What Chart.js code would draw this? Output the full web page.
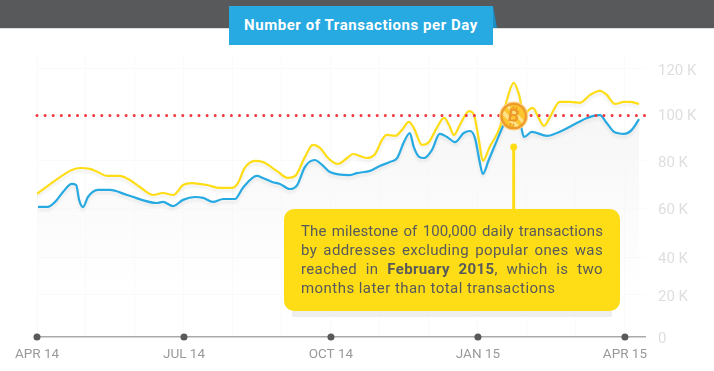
<!DOCTYPE html>
<html>
<head>
<meta charset="utf-8">
<title>Number of Transactions per Day</title>
<script src="https://cdn.jsdelivr.net/npm/chart.js@4"></script>
<style>
  html, body { margin: 0; padding: 0; background: #fff; overflow: hidden; }
  #wrap { position: relative; width: 714px; height: 371px; }
  canvas { position: absolute; left: 0; top: 0; }
  #band { position: absolute; left: 0; top: 0; width: 714px; height: 28px; background: #58595b; border-bottom: 1px solid #ddd; }
  #fold { position: absolute; left: 493px; top: 6px; width: 0; height: 0; border-bottom: 22px solid #1c8fc4; border-right: 4px solid transparent; }
  #title {
    position: absolute; left: 229px; top: 6px; width: 264px; height: 39px;
    background: #27a9e1; color: #fff; text-align: center;
    font: bold 15px/39px Roboto, sans-serif; letter-spacing: 0.55px;
  }
  #note {
    position: absolute; left: 284px; top: 209px; width: 302px; height: 68px; padding: 13px 17px 21px 17px;
    background: #fedd16; border-radius: 10px; box-shadow: 0 14px 0 -8px #eeeeee;
    color: #58595b; font: 15px/19px Roboto, sans-serif; letter-spacing: 0.36px;
  }
  #note span { display: block; text-align: justify; text-align-last: justify; }
  #note span.first { letter-spacing: 0.1px; }
  #note span.last { text-align-last: left; letter-spacing: 0.45px; }
</style>
</head>
<body>
<div id="wrap">
  <canvas id="grafico" width="714" height="371"></canvas>
  <div id="band"></div>
  <div id="fold"></div>
  <div id="title">Number of Transactions per Day</div>
  <div id="note"><span class="first">The milestone of 100,000 daily transactions</span><span>by addresses excluding popular ones was</span><span>reached in <b>February 2015</b>, which is two</span><span class="last">months later than total transactions</span></div>
</div>
<script>
// Months counted from APR 14, values in thousands of transactions
const mesesTotal = [0, .47, .71, .88, 1.08, 1.24, 1.43, 1.69, 1.86, 2.10, 2.37, 2.57, 2.78, 2.98, 3.16, 3.47, 3.73, 3.98, 4.10, 4.24, 4.45, 4.61, 4.90, 5.12, 5.27, 5.47, 5.63, 5.78, 5.94, 6.14, 6.33, 6.45, 6.73, 6.90, 7.04, 7.14, 7.31, 7.45, 7.59, 7.69, 7.86, 8.00, 8.16, 8.31, 8.41, 8.51, 8.63, 8.82, 8.92, 9.02, 9.10, 9.24, 9.45, 9.59, 9.73, 9.84, 9.94, 10.04, 10.12, 10.24, 10.35, 10.47, 10.67, 10.88, 11.08, 11.29, 11.49, 11.63, 11.80, 11.98, 12.10, 12.29];
const valoresTotal = [64.6, 72.2, 75.4, 76.3, 75.9, 74.5, 72.7, 72.7, 71.3, 67.7, 64.1, 65.0, 64.1, 68.6, 69.5, 68.6, 67.3, 67.3, 69.5, 76.3, 79.5, 79.0, 74.9, 71.8, 72.7, 81.3, 86.7, 85.3, 80.8, 78.1, 80.8, 82.6, 80.8, 82.6, 88.9, 91.2, 90.8, 93.5, 97.1, 94.4, 86.7, 88.0, 94.4, 98.9, 95.7, 91.2, 95.7, 102.0, 100.2, 88.9, 79.5, 85.8, 94.8, 107.0, 114.7, 109.3, 100.2, 102.5, 103.4, 98.9, 95.3, 99.3, 106.1, 106.1, 105.7, 109.3, 111.1, 109.3, 105.2, 106.1, 106.1, 105.2];

const mesesFiltrado = [.02, .22, .37, .53, .71, .80, .86, .94, 1.04, 1.24, 1.49, 1.84, 2.45, 2.57, 2.78, 2.98, 3.22, 3.39, 3.59, 3.80, 4.04, 4.20, 4.49, 4.61, 4.80, 4.96, 5.16, 5.31, 5.47, 5.67, 5.82, 5.98, 6.39, 6.53, 6.80, 7.00, 7.20, 7.35, 7.49, 7.61, 7.69, 7.80, 7.90, 8.06, 8.22, 8.37, 8.53, 8.71, 8.84, 8.94, 9.04, 9.10, 9.22, 9.39, 9.55, 9.73, 9.86, 9.94, 10.10, 10.41, 10.61, 11.49, 11.63, 11.78, 11.98, 12.14, 12.29];
const valoresFiltrado = [58.7, 58.7, 61.0, 65.5, 69.1, 68.6, 61.9, 58.7, 63.2, 66.4, 66.4, 64.1, 60.5, 61.0, 59.1, 61.9, 63.2, 62.8, 61.0, 62.3, 62.3, 67.3, 72.7, 71.8, 70.0, 69.1, 66.8, 68.6, 76.8, 79.9, 77.7, 74.5, 73.1, 74.0, 75.0, 77.2, 79.0, 80.8, 88.0, 92.1, 85.8, 81.3, 80.8, 84.4, 91.7, 90.3, 88.0, 92.1, 93.0, 89.8, 78.6, 73.6, 79.9, 88.9, 97.1, 103.8, 97.1, 90.3, 92.6, 90.8, 92.1, 100.2, 96.6, 92.6, 91.7, 93.5, 98.4];

const etiquetasX = ['APR 14', 'JUL 14', 'OCT 14', 'JAN 15', 'APR 15'];
const mesesEtiquetas = [0, 3, 6, 9, 12];
const mesesGrid = [0, 1, 2, 3, 4, 5, 6, 7, 8, 9, 10, 11, 12];

// The picture spaces its Y labels unevenly, so each label has its own spot on the scale
const etiquetasY = ['0', '20 K', '40 K', '60 K', '80 K', '100 K', '120 K'];
const posicionesY = [0, 19, 36.1, 58.2, 79.5, 100.5, 121];

const hito = 100;
const mesHito = 9.73;
const finEjeX = 12.41;
const maxEjeY = 127.3;

const unir = (xs, ys) => xs.map((x, i) => ({ x: x, y: ys[i] }));

// Shadow under the two main lines
const sombraLineas = {
    id: 'sombraLineas',
    beforeDatasetDraw(chart, args) {
        const ds = chart.data.datasets[args.index];
        chart.ctx.save();
        if (ds.conSombra) {
            chart.ctx.shadowColor = 'rgba(0,0,0,0.08)';
            chart.ctx.shadowBlur = 3;
            chart.ctx.shadowOffsetY = 3;
        }
    },
    afterDatasetDraw(chart) {
        chart.ctx.restore();
    }
};

// Bitcoin coin on the 100 K line, and the stem that goes down to the note
const moneda = {
    id: 'moneda',
    afterDatasetsDraw(chart) {
        const ctx = chart.ctx;
        const x = chart.scales.x.getPixelForValue(mesHito);
        const y = chart.scales.y.getPixelForValue(hito) + 0.5;

        ctx.save();
        ctx.fillStyle = '#fedd16';
        ctx.fillRect(x - 1.5, 147, 3, 64);
        ctx.beginPath();
        ctx.arc(x, 147, 3.5, 0, Math.PI * 2);
        ctx.fill();

        ctx.beginPath();
        ctx.arc(x, y, 14.5, 0, Math.PI * 2);
        ctx.fillStyle = '#fbd38a';
        ctx.fill();
        ctx.beginPath();
        ctx.arc(x, y, 13.3, 0, Math.PI * 2);
        ctx.fillStyle = '#ee9a2a';
        ctx.fill();
        ctx.beginPath();
        ctx.arc(x, y, 11, 0, Math.PI * 2);
        ctx.fillStyle = '#fdc52e';
        ctx.fill();
        ctx.clip();

        // lighter diagonal stripes
        ctx.translate(x, y);
        ctx.rotate(Math.PI / 4);
        ctx.fillStyle = '#fde38a';
        ctx.fillRect(-14, -4, 28, 3);
        ctx.fillRect(-14, 3, 28, 4);
        ctx.rotate(-Math.PI / 4 + 0.17);

        ctx.fillStyle = '#ee9a2a';
        ctx.font = 'bold 18px Roboto, sans-serif';
        ctx.textAlign = 'center';
        ctx.textBaseline = 'middle';
        ctx.fillText('B', 0, 1);
        ctx.fillRect(-2.5, -9.5, 1.5, 3);
        ctx.fillRect(0.5, -9.5, 1.5, 3);
        ctx.fillRect(-2.5, 7.5, 1.5, 3);
        ctx.fillRect(0.5, 7.5, 1.5, 3);
        ctx.restore();
    }
};

const ctx = document.getElementById('grafico').getContext('2d');

new Chart(ctx, {
    type: 'line',
    data: {
        datasets: [
            {
                // axis dots on the quarter ticks
                data: mesesEtiquetas.map((m) => ({ x: m, y: 0 })),
                showLine: false,
                pointRadius: 3.5,
                pointBackgroundColor: '#58595b',
                pointBorderWidth: 0,
                clip: false
            },
            {
                data: [{ x: 0, y: hito }, { x: finEjeX, y: hito }],
                borderColor: '#f0383c',
                borderWidth: 3,
                borderDash: [0, 8.1],
                borderCapStyle: 'round',
                pointRadius: 0,
                clip: false
            },
            {
                data: unir(mesesFiltrado, valoresFiltrado),
                borderColor: '#27a9e1',
                borderWidth: 2.2,
                cubicInterpolationMode: 'monotone',
                pointRadius: 0,
                conSombra: true
            },
            {
                data: unir(mesesTotal, valoresTotal),
                borderColor: '#fedd16',
                borderWidth: 2.2,
                cubicInterpolationMode: 'monotone',
                pointRadius: 0,
                conSombra: true
            },
            {
                // soft grey area below the filtered line, fading out so the axis line stays visible
                data: unir(mesesFiltrado, valoresFiltrado),
                borderWidth: 0,
                cubicInterpolationMode: 'monotone',
                pointRadius: 0,
                fill: 'origin',
                backgroundColor: (c) => {
                    const area = c.chart.chartArea;
                    if (!area) return 'transparent';
                    const g = c.chart.ctx.createLinearGradient(0, 110, 0, 290);
                    g.addColorStop(0, 'rgba(246,246,247,1)');
                    g.addColorStop(1, 'rgba(246,246,247,0)');
                    return g;
                }
            }
        ]
    },
    options: {
        responsive: false,
        animation: false,
        layout: { padding: { left: 37, top: 55, right: 0, bottom: 0 } },
        plugins: { legend: { display: false }, tooltip: { enabled: false } },
        scales: {
            x: {
                type: 'linear',
                min: 0,
                max: finEjeX,
                afterBuildTicks: (axis) => { axis.ticks = mesesGrid.map((m) => ({ value: m })); },
                afterFit: (axis) => { axis.height = 34; },
                grid: { color: '#fafafa', drawTicks: false },
                border: { color: '#aaaaaa', width: 1.5 },
                ticks: {
                    autoSkip: false,
                    maxRotation: 0,
                    padding: 10,
                    color: '#999999',
                    font: { family: 'Roboto, sans-serif', size: 13.5 },
                    callback: (v) => {
                        const i = mesesEtiquetas.indexOf(v);
                        return i >= 0 ? etiquetasX[i] : '';
                    }
                }
            },
            y: {
                position: 'right',
                min: 0,
                max: maxEjeY,
                afterBuildTicks: (axis) => { axis.ticks = posicionesY.map((v) => ({ value: v })); },
                afterFit: (axis) => { axis.width = 69; },
                grid: { color: (c) => (c.tick.value === 0 ? 'transparent' : '#fafafa'), drawTicks: false },
                border: { display: false },
                ticks: {
                    padding: 13,
                    labelOffset: 2,
                    color: '#dedede',
                    font: { family: 'Roboto, sans-serif', size: 15 },
                    callback: (v) => etiquetasY[posicionesY.indexOf(v)]
                }
            }
        }
    },
    plugins: [sombraLineas, moneda]
});
</script>
</body>
</html>
